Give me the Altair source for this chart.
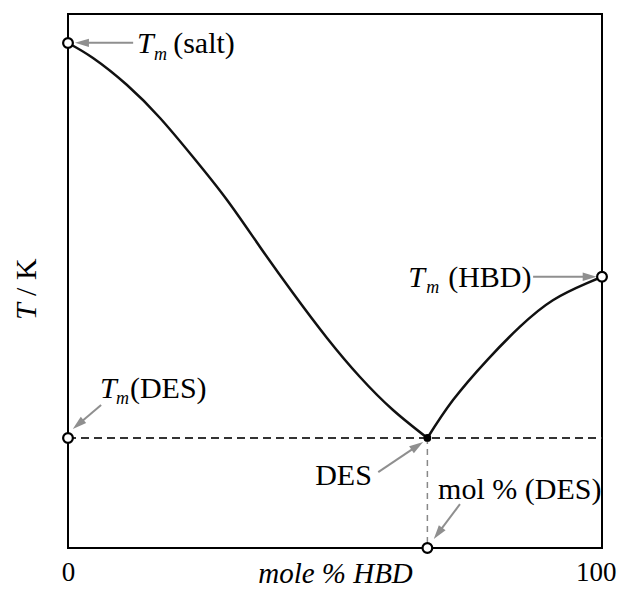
import math
import altair as alt
import pandas as pd

FONT = "Liberation Serif"

# liquidus curves (x: mole % HBD, y: relative temperature)
left_x = [0, 4.68, 11.05, 17.23, 23.41, 29.78, 35.96, 42.13, 48.50, 54.68, 60.86, 67.3]
left_y = [94.57, 91.76, 86.70, 80.52, 73.22, 65.17, 56.37, 47.75, 39.33, 32.02, 25.84, 20.6]
right_x = [67.3, 72.1, 78.5, 84.6, 90.8, 97.2, 100]
right_y = [20.6, 27.7, 35.2, 41.4, 46.4, 49.6, 50.8]

# special points
open_x = [0, 100, 0, 67.3]
open_y = [94.57, 50.8, 20.6, 0]
des_x = [67.3]
des_y = [20.6]

# dashed guides
hdash_x = [0, 100]
hdash_y = [20.6, 20.6]
vdash_x = [67.3, 67.3]
vdash_y = [20.6, 0]

# arrows (start -> tip)
arr_x1 = [12.2, 87.1, 6.2, 58.1, 73.4]
arr_y1 = [94.6, 50.8, 26.8, 14.2, 8.2]
arr_x2 = [1.3, 99.0, 0.9, 66.5, 68.5]
arr_y2 = [94.6, 50.8, 22.3, 19.85, 1.7]

# annotation text pieces
it_text = ["T", "m", "T", "m", "T", "m"]
it_x = [12.9, 16.1, 63.7, 67.1, 6.0, 9.0]
it_y = [92.7, 91.4, 48.9, 47.8, 28.1, 27.0]
it_size = [30, 18, 30, 18, 30, 18]

rm_text = ["(salt)", "(HBD)", "(DES)", "mol % (DES)"]
rm_x = [19.7, 71.2, 11.6, 69.3]
rm_y = [92.7, 48.9, 28.1, 9.2]

rr_text = ["DES"]
rr_x = [56.9]
rr_y = [11.8]

# y title pieces (rotated)
yt_text = ["T", "/ K"]
yt_style = ["italic", "normal"]
yt_x = [-7.7, -7.7]
yt_y = [42.7, 47.2]

PX = 534 / 100.0  # pixels per data unit (both axes)

xs = alt.Scale(domain=[0, 100], nice=False, zero=False)
ys = alt.Scale(domain=[0, 100], nice=False, zero=False)

curve_df = pd.DataFrame({
    "x": left_x + right_x,
    "y": left_y + right_y,
    "branch": ["salt"] * len(left_x) + ["hbd"] * len(right_x),
})
X = alt.X("x:Q", scale=xs, axis=alt.Axis(
    values=[0, 100], ticks=False, tickSize=0, domain=False, grid=False,
    labelFont=FONT, labelFontSize=27, labelColor="black", labelFlush=False,
    labelBaseline="alphabetic", labelPadding=32,
    labelAlign={"condition": {"test": "datum.value == 100", "value": "right"}, "value": "center"},
    labelOffset={"condition": {"test": "datum.value == 100", "value": 14}, "value": 0},
    title="mole % HBD", titleFont=FONT, titleFontSize=29, titleFontStyle="italic",
    titleFontWeight="normal", titleColor="black", titleBaseline="alphabetic", titleY=34,
))
Y = alt.Y("y:Q", scale=ys, axis=None)

curve = alt.Chart(curve_df).mark_line(color="#111111", strokeWidth=2.5, interpolate="natural").encode(
    x=X, y=Y, detail="branch:N"
)

hd = alt.Chart(pd.DataFrame({"x": hdash_x, "y": hdash_y})).mark_line(
    color="#333333", strokeWidth=2, strokeDash=[8, 5]).encode(x=alt.X("x:Q", scale=xs), y=Y)
vd = alt.Chart(pd.DataFrame({"x": vdash_x, "y": vdash_y})).mark_line(
    color="#888888", strokeWidth=1.5, strokeDash=[6, 5]).encode(x=alt.X("x:Q", scale=xs), y=Y)

# arrow heads: narrow triangle, centred 7px behind the tip
HEAD = 14.0
hx, hy, ang = [], [], []
for a, b, c, d in zip(arr_x1, arr_x2, arr_y1, arr_y2):
    dx, dy = b - a, d - c
    L = math.hypot(dx, dy)
    back = (HEAD / 2) / PX
    hx.append(b - dx / L * back)
    hy.append(d - dy / L * back)
    ang.append((math.degrees(math.atan2(dx, dy)) + 360) % 360)
arr_df = pd.DataFrame({"x": arr_x1, "y": arr_y1, "hx": hx, "hy": hy, "ang": ang})

shafts = alt.Chart(arr_df).mark_rule(color="#8f8f8f", strokeWidth=2).encode(
    x=alt.X("x:Q", scale=xs), y=Y, x2="hx:Q", y2="hy:Q")
heads = alt.Chart(arr_df).mark_point(shape="M0,-1L0.6,1L-0.6,1Z", filled=True, color="#8f8f8f",
                                     opacity=1, size=HEAD * HEAD, strokeWidth=0).encode(
    x=alt.X("hx:Q", scale=xs), y=alt.Y("hy:Q", scale=ys, axis=None),
    angle=alt.Angle("ang:Q", scale=None))

opens = alt.Chart(pd.DataFrame({"x": open_x, "y": open_y})).mark_point(
    shape="circle", filled=False, fill="white", stroke="black", strokeWidth=2.2,
    size=95, opacity=1).encode(x=alt.X("x:Q", scale=xs), y=Y)
des = alt.Chart(pd.DataFrame({"x": des_x, "y": des_y})).mark_point(
    shape="circle", filled=True, color="black", size=60, opacity=1).encode(
    x=alt.X("x:Q", scale=xs), y=Y)

it = alt.Chart(pd.DataFrame({"t": it_text, "x": it_x, "y": it_y, "s": it_size})).mark_text(
    font=FONT, fontStyle="italic", align="left", baseline="alphabetic", color="black").encode(
    x=alt.X("x:Q", scale=xs), y=Y, text="t:N", size=alt.Size("s:Q", scale=None))
rm = alt.Chart(pd.DataFrame({"t": rm_text, "x": rm_x, "y": rm_y})).mark_text(
    font=FONT, fontSize=30, align="left", baseline="alphabetic", color="black").encode(
    x=alt.X("x:Q", scale=xs), y=Y, text="t:N")
rr = alt.Chart(pd.DataFrame({"t": rr_text, "x": rr_x, "y": rr_y})).mark_text(
    font=FONT, fontSize=30, align="right", baseline="alphabetic", color="black").encode(
    x=alt.X("x:Q", scale=xs), y=Y, text="t:N")

yt_df = pd.DataFrame({"t": yt_text, "x": yt_x, "y": yt_y, "st": yt_style})
yt1 = alt.Chart(yt_df).transform_filter("datum.st == 'italic'").mark_text(
    font=FONT, fontSize=30, fontStyle="italic", align="left", baseline="middle",
    angle=270, color="black").encode(x=alt.X("x:Q", scale=xs), y=Y, text="t:N")
yt2 = alt.Chart(yt_df).transform_filter("datum.st == 'normal'").mark_text(
    font=FONT, fontSize=30, align="left", baseline="middle",
    angle=270, color="black").encode(x=alt.X("x:Q", scale=xs), y=Y, text="t:N")

chart = alt.layer(hd, vd, curve, shafts, heads, opens, des, it, rm, rr, yt1, yt2).properties(
    width=534, height=534,
    padding={"left": 60, "top": 6, "right": 15, "bottom": 40},
    autosize=alt.AutoSizeParams(type="none"),
    background="white",
).configure_view(stroke="black", strokeWidth=2)

chart.save("out.html", embed_options={"renderer": "svg", "actions": False})
